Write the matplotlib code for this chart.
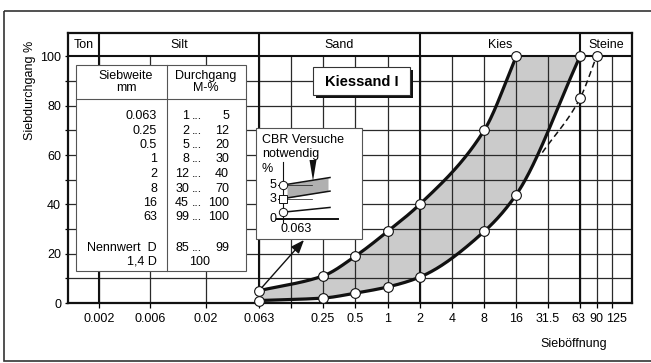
import numpy as np
import matplotlib
matplotlib.use("Agg")
import matplotlib.pyplot as plt
import matplotlib.transforms as mtransforms
from matplotlib.patches import Rectangle, Polygon

plt.rcParams['font.family'] = ['Liberation Sans', 'DejaVu Sans']
plt.rcParams['font.size'] = 9

W, H = 651, 363   # figure size in pixels

# sieve openings on the x axis (mm)
sieves = [0.002, 0.006, 0.02, 0.063, 0.125, 0.25, 0.5, 1, 2, 4, 8, 16, 31.5, 63, 90, 125]
sieve_labels = ['0.002', '0.006', '0.02', '0.063', '', '0.25', '0.5', '1', '2', '4',
                '8', '16', '31.5', '63', '90', '125']
soil_bounds = [0.002, 0.063, 2, 63]
soil_names = ['Ton', 'Silt', 'Sand', 'Kies', 'Steine']

# grading envelope (passing %)
upper_x = [0.063, 0.25, 0.5, 1, 2, 8, 16]
upper_y = [5, 11, 19, 29, 40, 70, 100]
lower_x = [0.063, 0.25, 0.5, 1, 2, 8, 16, 63]
lower_y = [1, 2, 4, 6.5, 10.5, 29, 44, 100]
# dashed branch to 1,4 D
dashed_x = [28, 63, 90]
dashed_y = [61, 83, 100]

# table
tab_sieve = ['0.063', '0.25', '0.5', '1', '2', '8', '16', '63']
tab_min = [1, 2, 5, 8, 12, 30, 45, 99]
tab_max = [5, 12, 20, 30, 40, 70, 100, 100]
nenn_min, nenn_max = 85, 99
d14_val = 100

# CBR sketch
cbr_ticks = [0, 3, 5]
cbr_marks = [5, 3, 1]
cbr_styles = ['o', 's', 'o']
cbr_rise = [1.1, 1.1, 0.7]


def pchip(x, y, xn):
    # monotone cubic through the points (Fritsch-Carlson)
    x = np.asarray(x, float)
    y = np.asarray(y, float)
    h = np.diff(x)
    d = np.diff(y) / h
    m = np.zeros_like(y)
    m[0], m[-1] = d[0], d[-1]
    for k in range(1, len(x) - 1):
        if d[k - 1] * d[k] > 0:
            w1 = 2 * h[k] + h[k - 1]
            w2 = h[k] + 2 * h[k - 1]
            m[k] = (w1 + w2) / (w1 / d[k - 1] + w2 / d[k])
    i = np.clip(np.searchsorted(x, xn) - 1, 0, len(h) - 1)
    t = (xn - x[i]) / h[i]
    return ((2*t**3 - 3*t**2 + 1) * y[i] + (t**3 - 2*t**2 + t) * h[i] * m[i]
            + (-2*t**3 + 3*t**2) * y[i + 1] + (t**3 - t**2) * h[i] * m[i + 1])


def smooth(xp, yp, xs):
    return pchip(np.log10(xp), yp, np.log10(xs))


fig = plt.figure(figsize=(W / 100, H / 100), dpi=100)
fig.set_facecolor('white')

ax = fig.add_axes([68 / W, 1 - 303 / H, (632 - 68) / W, (303 - 33) / H])
ax.set_xscale('log')
XMIN, XMAX, YTOP = 0.00103, 193, 109.5
ax.set_xlim(XMIN, XMAX)
ax.set_ylim(0, YTOP)
for s in ax.spines.values():
    s.set_linewidth(1.6)
    s.set_color('#111111')

# grid
ax.vlines(sieves, 0, 100, color='#2a2a2a', lw=0.9, zorder=1)
ax.hlines(np.arange(10, 100, 10), XMIN, XMAX, color='#2a2a2a', lw=0.9, zorder=1)
ax.hlines(100, XMIN, XMAX, color='#111111', lw=1.5, zorder=2)
ax.vlines(soil_bounds, 0, YTOP, color='#111111', lw=1.5, zorder=2)

# header names centred between class limits
edges = [XMIN] + soil_bounds + [XMAX]
for name, a, b in zip(soil_names, edges[:-1], edges[1:]):
    ax.text(np.sqrt(a * b), 104.8, name, ha='center', va='center', fontsize=9)

# ticks
ax.set_xticks(sieves, sieve_labels)
ax.xaxis.set_minor_locator(matplotlib.ticker.NullLocator())
ax.tick_params(axis='x', which='major', direction='out', length=3.5, width=0.9,
               pad=4, labelsize=9)
ax.set_yticks(np.arange(0, 101, 20))
ax.set_yticks(np.arange(10, 100, 20), minor=True)
ax.tick_params(axis='y', which='both', direction='out', length=2.5, width=0.9,
               pad=2.5, labelsize=9)
# the 63 / 90 / 125 labels sit very close; spread them a little (pixels)
for lbl in ax.get_xticklabels():
    shift = {'63': -1.5, '90': -0.5, '125': 5}.get(lbl.get_text(), 0)
    if shift:
        lbl.set_transform(lbl.get_transform() +
                          mtransforms.ScaledTranslation(shift / 100, 0, fig.dpi_scale_trans))

# envelope
xs = np.logspace(np.log10(0.063), np.log10(63), 500)
lo_s = smooth(lower_x, lower_y, xs)
up_s = np.where(xs <= 16, smooth(upper_x, upper_y, np.minimum(xs, 16)), 100)
ax.fill_between(xs, lo_s, up_s, color='#cbcbcb', lw=0, zorder=0.5)

xu = np.logspace(np.log10(upper_x[0]), np.log10(upper_x[-1]), 300)
ax.plot(xu, smooth(upper_x, upper_y, xu), color='#111111', lw=2.3, zorder=3,
        solid_capstyle='round')
ax.plot(xs, lo_s, color='#111111', lw=2.3, zorder=3, solid_capstyle='round')

xd = np.logspace(np.log10(dashed_x[0]), np.log10(dashed_x[-1]), 100)
ax.plot(xd, smooth(dashed_x, dashed_y, xd), color='#111111', lw=1.1,
        ls=(0, (4, 2.5)), zorder=3)

mk = dict(ls='none', marker='o', ms=7, mfc='white', mec='#111111', mew=0.8,
          zorder=4, clip_on=False)
ax.plot(upper_x, upper_y, **mk)
ax.plot(lower_x, lower_y, **mk)
ax.plot(dashed_x[1:], dashed_y[1:], **mk)

# overlay in pixel coordinates for boxes and captions
ov = fig.add_axes([0, 0, 1, 1], zorder=5)
ov.set_xlim(0, W)
ov.set_ylim(H, 0)
ov.axis('off')

ov.add_patch(Rectangle((4, 11), W + 10, 350, fill=False, lw=1.2, ec='#333333'))

ov.text(30, 90, 'Siebdurchgang %', rotation=90, ha='center', va='center', fontsize=9)
ov.text(574, 344, 'Sieböffnung', ha='center', va='center', fontsize=9)

# table of limits
ov.add_patch(Rectangle((76, 65), 170, 206, fc='white', ec='#555555', lw=0.8))
ov.plot([76, 246], [99, 99], color='#555555', lw=0.8)
ov.plot([167, 167], [65, 271], color='#555555', lw=0.8)
ov.text(126, 82, 'Siebweite\nmm', ha='center', va='center', fontsize=9, linespacing=1.0)
ov.text(206, 82, 'Durchgang\nM-%', ha='center', va='center', fontsize=9, linespacing=1.0)


def range_row(y, a, b):
    ov.text(189, y, str(a), ha='right', va='center', fontsize=9)
    ov.text(192, y, '...', ha='left', va='center', fontsize=9)
    ov.text(229, y, str(b), ha='right', va='center', fontsize=9)


for i, (sv, a, b) in enumerate(zip(tab_sieve, tab_min, tab_max)):
    y = 116 + 14.5 * i
    ov.text(157, y, sv, ha='right', va='center', fontsize=9)
    range_row(y, a, b)
ov.text(157, 248, 'Nennwert  D', ha='right', va='center', fontsize=9)
range_row(248, nenn_min, nenn_max)
ov.text(157, 262, '1,4 D', ha='right', va='center', fontsize=9)
ov.text(200, 262, str(d14_val), ha='center', va='center', fontsize=9)

# title box with shadow
ov.add_patch(Rectangle((316, 70), 97, 28, fc='#111111', ec='none'))
ov.add_patch(Rectangle((313, 67), 97, 28, fc='white', ec='#333333', lw=0.8))
ov.text(361.5, 81.5, 'Kiessand I', ha='center', va='center', fontsize=10.5,
        fontweight='bold')

# CBR note box
ov.add_patch(Rectangle((256, 128), 106, 111, fc='white', ec='#555555', lw=0.8))
ov.text(262, 140, 'CBR Versuche', ha='left', va='center', fontsize=9)
ov.text(262, 153.5, 'notwendig', ha='left', va='center', fontsize=9)
ov.text(262, 169, '%', ha='left', va='center', fontsize=9)
ov.text(296, 229, '0.063', ha='center', va='center', fontsize=9)
ov.add_patch(Polygon([(309.5, 160), (316.5, 160), (313, 181)], closed=True,
                     fc='#111111', ec='none'))

# arrow from the 0.063 point to the note
ov.annotate('', xy=(304, 240), xycoords='data',
            xytext=(upper_x[0], upper_y[0]), textcoords=ax.transData,
            arrowprops=dict(arrowstyle='-|>,head_length=0.9,head_width=0.35',
                            color='#111111', lw=1.0, shrinkA=3, shrinkB=0))

# small CBR sketch
cb = fig.add_axes([262 / W, 1 - 226 / H, 83 / W, 66 / H], zorder=6)
cb.set_xlim(262, 345)
cb.set_ylim(-7 / 6.8, 59 / 6.8)
cb.axis('off')
x0, x1 = 283, 330
cb.plot([x0, x0], [-0.4, 8.4], color='#111111', lw=0.8)
cb.plot([277, 338], [0, 0], color='#111111', lw=1.4)
for t in cbr_ticks:
    cb.plot([278, x0], [t, t], color='#111111', lw=0.7)
    cb.text(276, t, str(t), ha='right', va='center', fontsize=9)
cb.fill_between([x0 + 4, x1 - 2], [cbr_marks[1] + 0.1, cbr_marks[1] + cbr_rise[1]],
                [cbr_marks[0] + 0.1, cbr_marks[0] + cbr_rise[0]],
                color='#b0b0b0', lw=0)
for v in cbr_marks[:2]:
    cb.plot([x0, 312], [v, v], color='#111111', lw=0.5)
for v, st, r in zip(cbr_marks, cbr_styles, cbr_rise):
    cb.plot([x0, x1], [v, v + r], color='#111111', lw=1.1)
    cb.plot([x0], [v], marker=st, ms=6 if st == 'o' else 5.5, mfc='white',
            mec='#111111', mew=0.7, ls='none', zorder=4)

fig.savefig('out.png', dpi=100)
